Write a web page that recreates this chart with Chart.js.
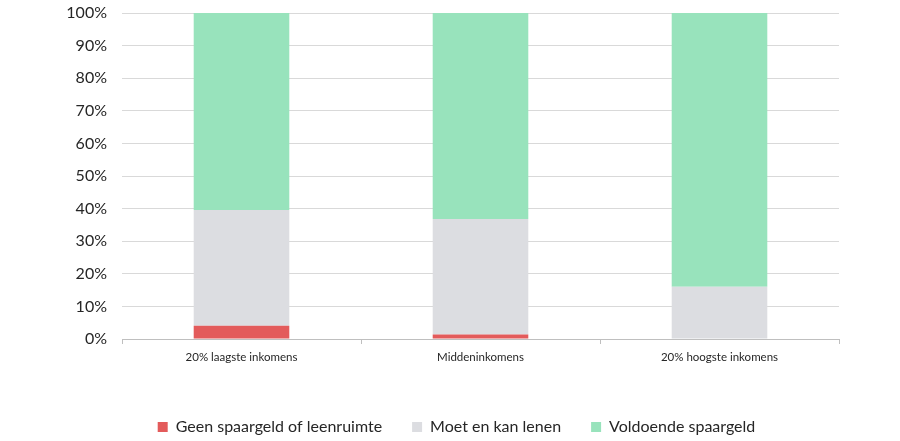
<!DOCTYPE html>
<html>
<head>
<meta charset="utf-8">
<script src="https://cdn.jsdelivr.net/npm/chart.js@4"></script>
<style>
  html, body { margin: 0; padding: 0; background: #fff; }
  #wrap { width: 900px; height: 441px; }
</style>
</head>
<body>
<div id="wrap"><canvas id="chart" width="900" height="441"></canvas></div>
<script>
// Gegevens
const categorieen = ['20% laagste inkomens', 'Middeninkomens', '20% hoogste inkomens'];
const geenSpaargeld = [4.1, 1.4, 0];
const moetLenen = [35.5, 35.4, 16];
const voldoende = [60.4, 63.2, 84];
const yTicks = [0, 10, 20, 30, 40, 50, 60, 70, 80, 90, 100];

// legenda iets naar rechts en omlaag schuiven, zoals in het origineel
const legendShift = {
    id: 'legendShift',
    afterLayout(chart) {
        const lg = chart.legend;
        lg.left += 37; lg.right += 37;
        lg.top += 4; lg.bottom += 4;
    }
};

const ctx = document.getElementById('chart').getContext('2d');
const chart = new Chart(ctx, {
    type: 'bar',
    data: {
        labels: categorieen,
        datasets: [
            { label: 'Geen spaargeld of leenruimte', data: geenSpaargeld, backgroundColor: '#e35b5b' },
            { label: 'Moet en kan lenen', data: moetLenen, backgroundColor: '#dcdde1' },
            { label: 'Voldoende spaargeld', data: voldoende, backgroundColor: '#98e3bc' }
        ]
    },
    options: {
        responsive: false,
        animation: false,
        datasets: {
            bar: { categoryPercentage: 1, barPercentage: 0.4 }
        },
        layout: { padding: { left: 0, right: 61, top: 13, bottom: 0 } },
        plugins: {
            tooltip: { enabled: false },
            legend: {
                position: 'bottom',
                labels: {
                    boxWidth: 10,
                    boxHeight: 10,
                    padding: 30,
                    color: '#262626',
                    font: { family: 'Lato', size: 16 }
                }
            }
        },
        scales: {
            x: {
                stacked: true,
                grid: { display: true, drawOnChartArea: false, drawTicks: true, tickLength: 5, color: '#bfbfbf', offset: true },
                border: { display: true, color: '#bfbfbf' },
                ticks: { color: '#262626', padding: 6, font: { family: 'Lato', size: 11.5 }, maxRotation: 0 },
                afterFit: (scale) => { scale.height = 46; }
            },
            y: {
                stacked: true,
                min: 0,
                max: 100,
                grid: { color: '#d9d9d9', drawTicks: false },
                border: { display: false },
                afterBuildTicks: (scale) => { scale.ticks = yTicks.map(v => ({ value: v })); },
                ticks: {
                    color: '#262626',
                    padding: 15,
                    font: { family: 'Lato', size: 16 },
                    callback: (v) => v + '%'
                },
                afterFit: (scale) => {
                    scale.width = 122;
                    scale.paddingTop = 0;
                    scale.paddingBottom = 0;
                }
            }
        }
    },
    plugins: [legendShift]
});
</script>
</body>
</html>
